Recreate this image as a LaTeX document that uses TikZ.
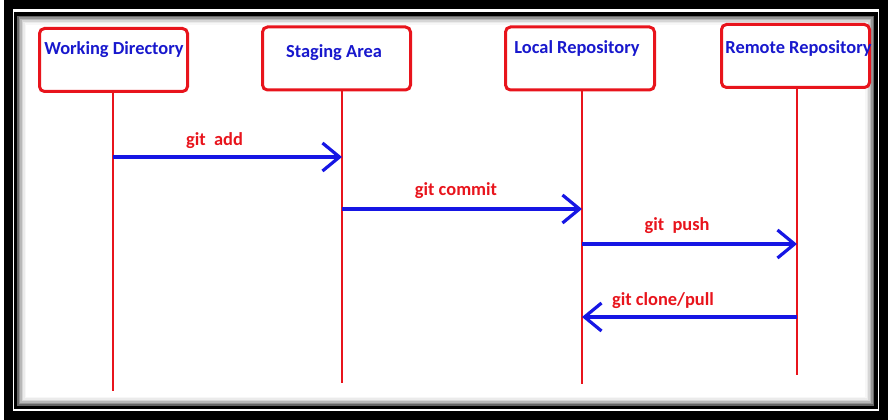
\documentclass[tikz,border=0pt]{standalone}
\usepackage{fontspec}
\setmainfont{Carlito}
\usetikzlibrary{arrows.meta}
\definecolor{pred}{RGB}{232,20,28}
\definecolor{pblue}{RGB}{22,22,228}
\definecolor{tblue}{RGB}{24,24,205}
\begin{document}
\begin{tikzpicture}[x=1pt,y=-1pt,
  box/.style={draw=pred, line width=3pt, rounded corners=5pt, fill=white,
              minimum width=148pt, minimum height=63pt, inner sep=0pt},
  ttl/.style={text=tblue, font=\fontsize{18.4}{22}\selectfont\bfseries, anchor=base, inner sep=0pt},
  cmd/.style={text=pred, font=\fontsize{18.4}{22}\selectfont\bfseries, anchor=base, inner sep=0pt},
  life/.style={draw=pred, line width=2.6pt},
  msg/.style={draw=pblue, line width=3.2pt, -{Straight Barb[length=17pt,width=28pt]}}]
\useasboundingbox (0,0) rectangle (892,420);
% frame
\draw[line width=8.5pt] (8.5,4.5) rectangle (883.5,415.5);
\draw[line width=3.5pt] (15.5,14) rectangle (876,407.5);
\foreach \i/\c in {1/60,2/42,3/28,4/16,5/8,6/3}{
  \draw[black!\c, line width=1.5pt]
    (17.25+1.5*\i-0.75,15.75+1.5*\i-0.75) rectangle (874.25-1.5*\i+0.75,405.75-1.5*\i+0.75);
}
% boxes
\node[box] (wd) at (113.5,60) {};
\node[box] (sa) at (336.5,58.5) {};
\node[box, minimum width=149pt] (lr) at (580,58.5) {};
\node[box] (rr) at (795.5,56) {};
\node[ttl] (wdt) at (114,55) {Working Directory};
\node[ttl] (sat) at (334,58) {Staging Area};
\node[ttl] (lrt) at (577,54) {Local Repository};
\node[ttl] (rrt) at (798.5,53.5) {Remote Repository};
% lifelines
\coordinate (wdb) at (113,391);
\coordinate (sab) at (342,383);
\coordinate (lrb) at (582,384);
\coordinate (rrb) at (797,375);
\draw[life] (wdb |- wd.south) -- (wdb);
\draw[life] (sab |- sa.south) -- (sab);
\draw[life] (lrb |- lr.south) -- (lrb);
\draw[life] (rrb |- rr.south) -- (rrb);
% messages
\draw[msg] (wdb |- 0,157) -- (sab |- 0,157);
\draw[msg] (sab |- 0,209) -- (lrb |- 0,209);
\draw[msg] (lrb |- 0,244) -- (rrb |- 0,244);
\draw[msg] (rrb |- 0,317) -- (lrb |- 0,317);
\node[cmd] (l1) at (214.5,145) {git\ \ add};
\node[cmd] (l2) at (456,195) {git commit};
\node[cmd] (l3) at (677,230) {git\ \ push};
\node[cmd] (l4) at (663,305) {git clone/pull};
\end{tikzpicture}
\end{document}
